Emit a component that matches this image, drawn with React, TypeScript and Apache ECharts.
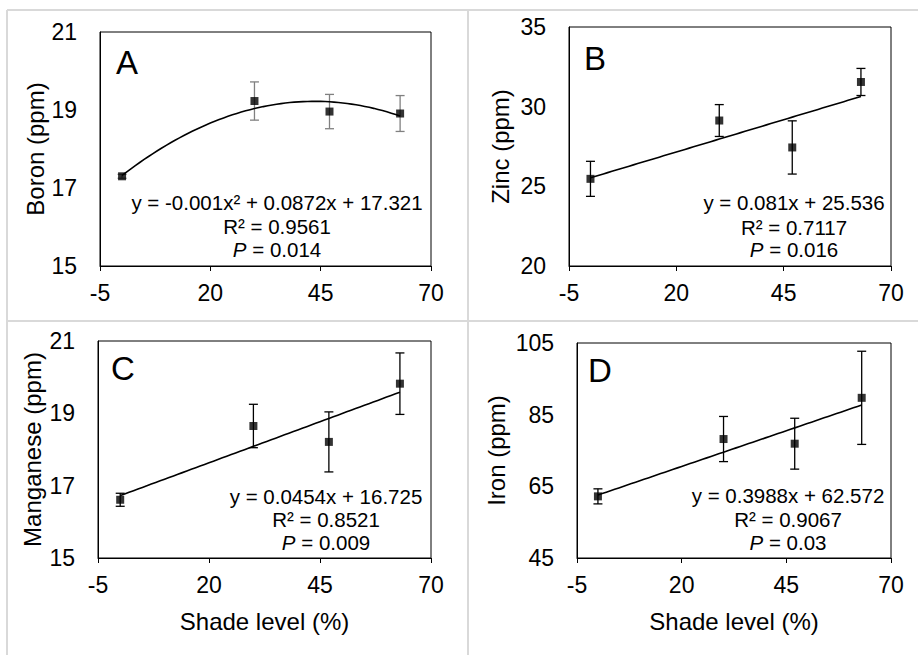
import React, { useEffect, useRef } from "react";
import * as echarts from "echarts";

// ---- Data ----
const shadeLevels = [0, 30, 47, 63];
const xTicks = [-5, 20, 45, 70];

const boron = [17.3, 19.23, 18.96, 18.91];
const boronErr = [0.05, 0.49, 0.44, 0.46];
const boronTicks = [15, 17, 19, 21];
const boronFit = [-0.001, 0.0872, 17.321]; // quadratic a, b, c
const boronText = ["y = -0.001x² + 0.0872x + 17.321", "R² = 0.9561", "0.014"];

const zinc = [25.47, 29.13, 27.44, 31.55];
const zincErr = [1.1, 1.0, 1.67, 0.85];
const zincTicks = [20, 25, 30, 35];
const zincFit = [0, 0.081, 25.536];
const zincText = ["y = 0.081x + 25.536", "R² = 0.7117", "0.016"];

const manganese = [16.61, 18.65, 18.21, 19.82];
const manganeseErr = [0.18, 0.6, 0.83, 0.85];
const manganeseTicks = [15, 17, 19, 21];
const manganeseFit = [0, 0.0454, 16.725];
const manganeseText = ["y = 0.0454x + 16.725", "R² = 0.8521", "0.009"];

const iron = [62.2, 78.2, 76.9, 89.7];
const ironErr = [2.1, 6.3, 7.1, 13];
const ironTicks = [45, 65, 85, 105];
const ironFit = [0, 0.3988, 62.572];
const ironText = ["y = 0.3988x + 62.572", "R² = 0.9067", "0.03"];

const FONT = "'Liberation Sans', Arial, sans-serif";

type Panel = {
  letter: string;
  yName: string;
  xName: string;
  values: number[];
  errs: number[];
  ticks: number[];
  fit: number[];
  text: string[];
  errColor: string;
  grid: { left: number; top: number; width: number; height: number };
  nameGap: number;
  letterPos: [number, number];
  textPos: [number, number[]];
};

const panels: Panel[] = [
  {
    letter: "A", yName: "Boron (ppm)", xName: "", values: boron, errs: boronErr, ticks: boronTicks,
    fit: boronFit, text: boronText, errColor: "#808080",
    grid: { left: 100, top: 32, width: 331, height: 234 }, nameGap: 52,
    letterPos: [116, 62], textPos: [277, [202, 226, 249]],
  },
  {
    letter: "B", yName: "Zinc (ppm)", xName: "", values: zinc, errs: zincErr, ticks: zincTicks,
    fit: zincFit, text: zincText, errColor: "#000",
    grid: { left: 569, top: 27, width: 322, height: 239 }, nameGap: 57,
    letterPos: [584, 58], textPos: [794, [202, 227, 249]],
  },
  {
    letter: "C", yName: "Manganese (ppm)", xName: "Shade level (%)", values: manganese, errs: manganeseErr,
    ticks: manganeseTicks, fit: manganeseFit, text: manganeseText, errColor: "#000",
    grid: { left: 98, top: 341, width: 333, height: 217 }, nameGap: 54,
    letterPos: [111, 368], textPos: [326, [496, 519, 542]],
  },
  {
    letter: "D", yName: "Iron (ppm)", xName: "Shade level (%)", values: iron, errs: ironErr,
    ticks: ironTicks, fit: ironFit, text: ironText, errColor: "#000",
    grid: { left: 577, top: 343, width: 314, height: 215 }, nameGap: 69,
    letterPos: [588, 370], textPos: [788, [495, 519, 542]],
  },
];

function fitLine(fit: number[]): number[][] {
  const pts: number[][] = [];
  const x0 = shadeLevels[0];
  const x1 = shadeLevels[shadeLevels.length - 1];
  for (let x = x0; x <= x1; x += 1) {
    pts.push([x, fit[0] * x * x + fit[1] * x + fit[2]]);
  }
  return pts;
}

export default function App() {
  const ref = useRef<HTMLDivElement>(null);
  useEffect(() => {
    if (!ref.current) return;
    const chart = echarts.init(ref.current, undefined, { renderer: "svg" });

    const grids: any[] = [];
    const xAxes: any[] = [];
    const yAxes: any[] = [];
    const series: any[] = [];
    const graphics: any[] = [];

    // table borders
    const borderStyle = { stroke: "#d9d9d9", lineWidth: 2 };
    graphics.push(
      { type: "line", shape: { x1: 7, y1: 10, x2: 918, y2: 10 }, style: borderStyle, silent: true },
      { type: "line", shape: { x1: 7, y1: 321, x2: 918, y2: 321 }, style: borderStyle, silent: true },
      { type: "line", shape: { x1: 7, y1: 10, x2: 7, y2: 655 }, style: borderStyle, silent: true },
      { type: "line", shape: { x1: 468, y1: 10, x2: 468, y2: 655 }, style: borderStyle, silent: true }
    );

    panels.forEach((p, i) => {
      grids.push({
        ...p.grid, show: true, borderColor: "#000", borderWidth: 1, backgroundColor: "transparent",
        containLabel: false,
      });
      xAxes.push({
        type: "value", gridIndex: i, min: xTicks[0], max: xTicks[xTicks.length - 1],
        name: p.xName, nameLocation: "middle", nameGap: 51,
        nameTextStyle: { fontFamily: FONT, fontSize: 24, color: "#000" },
        axisLine: { show: true, onZero: false, lineStyle: { color: "#000", width: 1 } },
        axisTick: { show: true, length: 5, lineStyle: { color: "#000" }, customValues: xTicks },
        axisLabel: { fontFamily: FONT, fontSize: 23, color: "#000", margin: 15, customValues: xTicks },
        splitLine: { show: false },
      });
      yAxes.push({
        type: "value", gridIndex: i, min: p.ticks[0], max: p.ticks[p.ticks.length - 1],
        name: p.yName, nameLocation: "middle", nameGap: p.nameGap,
        nameTextStyle: { fontFamily: FONT, fontSize: 24, color: "#000" },
        axisLine: { show: true, onZero: false, lineStyle: { color: "#000", width: 1 } },
        axisTick: { show: false },
        axisLabel: { fontFamily: FONT, fontSize: 23, color: "#000", margin: 23, customValues: p.ticks },
        splitLine: { show: false },
      });
      const errData = shadeLevels.map((x, k) => [x, p.values[k] - p.errs[k], p.values[k] + p.errs[k]]);
      const color = p.errColor;
      series.push({
        type: "custom", xAxisIndex: i, yAxisIndex: i, data: errData, encode: { x: 0, y: [1, 2] },
        z: 2,
        renderItem: (_params: any, api: any) => {
          const x = api.value(0);
          const top = api.coord([x, api.value(2)]);
          const bot = api.coord([x, api.value(1)]);
          const hw = 4.5;
          const st = { stroke: color, lineWidth: 1.3 };
          return {
            type: "group",
            children: [
              { type: "line", shape: { x1: top[0], y1: top[1], x2: bot[0], y2: bot[1] }, style: st },
              { type: "line", shape: { x1: top[0] - hw, y1: top[1], x2: top[0] + hw, y2: top[1] }, style: st },
              { type: "line", shape: { x1: bot[0] - hw, y1: bot[1], x2: bot[0] + hw, y2: bot[1] }, style: st },
            ],
          };
        },
      });
      series.push({
        type: "line", xAxisIndex: i, yAxisIndex: i, data: fitLine(p.fit), showSymbol: false,
        lineStyle: { color: "#000", width: 1.6 }, z: 3, silent: true,
      });
      series.push({
        type: "scatter", xAxisIndex: i, yAxisIndex: i,
        data: shadeLevels.map((x, k) => [x, p.values[k]]),
        symbol: "rect", symbolSize: 8, itemStyle: { color: "#000" }, z: 4,
      });

      graphics.push({
        type: "text", x: p.letterPos[0], y: p.letterPos[1], silent: true,
        style: { text: p.letter, fontFamily: FONT, fontSize: 33, fill: "#000", align: "left", verticalAlign: "middle" },
      });
      const [cx, ys] = p.textPos;
      graphics.push(
        {
          type: "text", x: cx, y: ys[0], silent: true,
          style: { text: p.text[0], fontFamily: FONT, fontSize: 20.5, fill: "#000", align: "center", verticalAlign: "middle" },
        },
        {
          type: "text", x: cx, y: ys[1], silent: true,
          style: { text: p.text[1], fontFamily: FONT, fontSize: 20.5, fill: "#000", align: "center", verticalAlign: "middle" },
        },
        {
          type: "text", x: cx, y: ys[2], silent: true,
          style: {
            text: "{i|P} = " + p.text[2], fontFamily: FONT, fontSize: 20.5, fill: "#000",
            align: "center", verticalAlign: "middle",
            rich: { i: { fontStyle: "italic", fontFamily: FONT, fontSize: 20.5, fill: "#000" } },
          },
        }
      );
    });

    chart.setOption({
      animation: false,
      backgroundColor: "#fff",
      grid: grids,
      xAxis: xAxes,
      yAxis: yAxes,
      series,
      graphic: graphics,
    });
    return () => chart.dispose();
  }, []);

  return (
    <div
      ref={ref}
      style={{ position: "fixed", left: 0, top: 0, width: 918, height: 655 }}
    />
  );
}
